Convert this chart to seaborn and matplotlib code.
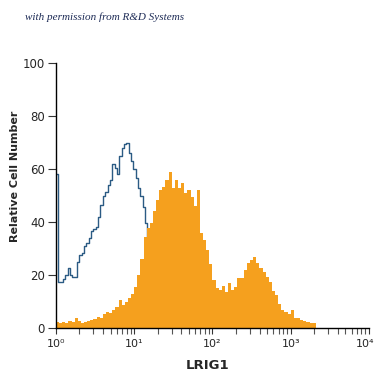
import numpy as np
import pandas as pd
import matplotlib
matplotlib.use("Agg")
import matplotlib.pyplot as plt
import matplotlib.transforms as mtransforms
import seaborn as sns

# isotype control (blue outline), bins of 0.03 in log10 starting at 10^0
control_step = 0.03
control_counts = [58, 17.5, 17.5, 18.5, 20, 22.6, 20, 19.4, 19.4, 25,
                  27.5, 28.5, 31, 32, 34, 36.5, 37.5, 38, 42, 46.5,
                  50, 51.4, 54, 56, 62, 60.5, 58, 65, 68, 69.5,
                  70, 66, 63, 60, 56.5, 53, 50, 45.8, 39.6, 30,
                  20, 10]

# LRIG1 stained cells (orange filled), bins of 0.04 in log10 starting at 10^0
stained_step = 0.04
stained_counts = [2.4, 2.0, 2.2, 2.0, 2.6, 2.2, 3.7, 2.5, 1.9, 2.3,
                  2.8, 3.2, 3.6, 4.3, 4.0, 5.2, 6.2, 5.8, 6.8, 8.0,
                  10.6, 8.7, 10.0, 11.3, 13.0, 15.6, 20.0, 26.0, 34.5, 37.7,
                  39.5, 44.0, 48.3, 52.0, 53.3, 56.0, 59.0, 53.0, 56.0, 53.0,
                  54.6, 51.0, 52.0, 49.5, 46.0, 52.0, 36.0, 33.2, 29.4, 24.0,
                  18.0, 15.0, 14.5, 15.8, 13.5, 17.0, 14.5, 15.6, 18.8, 19.0,
                  22.0, 24.5, 25.7, 26.9, 24.4, 22.5, 21.3, 19.4, 17.5, 14.0,
                  12.5, 9.0, 7.0, 6.2, 5.5, 6.8, 4.0, 3.7, 3.0, 2.5,
                  2.4, 2.0, 1.8]

x_ticks = [1, 10, 100, 1000, 10000]
x_tick_labels = ["10⁰", "10¹", "10²", "10³", "10⁴"]
y_ticks = [0, 20, 40, 60, 80, 100]

sns.set_style("ticks")
plt.rcParams['font.family'] = ['DejaVu Sans']

fig = plt.figure(figsize=(3.75, 3.75), dpi=100)
ax = fig.add_axes([0.149, 0.125, 0.835, 0.707])


def step_frame(counts, step):
    # bin edges on a log scale, last count repeated so the step closes
    edges = 10 ** (np.arange(len(counts) + 1) * step)
    heights = list(counts) + [counts[-1]]
    return pd.DataFrame({"edge": edges, "count": heights})


control = step_frame(control_counts, control_step)
stained = step_frame(stained_counts, stained_step)

sns.lineplot(data=control, x="edge", y="count", drawstyle="steps-post",
             color="#2b5b84", linewidth=1.0, ax=ax, zorder=2)
ax.fill_between(stained["edge"], 0, stained["count"], step="post",
                color="#f5a01e", linewidth=0, zorder=3)

ax.set_xscale("log")
ax.set_xlim(1, 10000)
ax.set_ylim(0, 100)
ax.set_xticks(x_ticks)
ax.set_xticklabels(x_tick_labels, fontsize=8)
ax.xaxis.set_minor_locator(matplotlib.ticker.LogLocator(base=10, subs=np.arange(2, 10), numticks=20))
ax.xaxis.set_minor_formatter(matplotlib.ticker.NullFormatter())
ax.set_yticks(y_ticks)
ax.set_yticklabels([str(v) for v in y_ticks], fontsize=8.5)
ax.tick_params(axis="y", which="major", length=6, width=0.8, color="#333333", pad=2)
ax.tick_params(axis="x", which="major", length=4, width=0.8, color="#333333", pad=4)
ax.tick_params(axis="x", which="minor", length=4, width=0.8, color="#555555")

# last x label sits against the right edge in the reference
last = ax.get_xticklabels()[-1]
last.set_transform(last.get_transform() + mtransforms.ScaledTranslation(-4 / 100, 0, fig.dpi_scale_trans))

sns.despine(ax=ax)
for side in ["left", "bottom"]:
    ax.spines[side].set_linewidth(1.0)
    ax.spines[side].set_color("black")
    ax.spines[side].set_zorder(4)

ax.set_xlabel("LRIG1", fontsize=9.5, fontweight="bold", va="top")
ax.xaxis.set_label_coords(0.486, -0.118)
ax.set_ylabel("Relative Cell Number", fontsize=8, fontweight="bold")
ax.yaxis.set_label_coords(-0.115, 0.574)

fig.text(0.067, 0.955, "with permission from R&D Systems", fontsize=8,
         style="italic", family=["Liberation Serif", "DejaVu Serif"],
         color="#1c2a55", va="center", ha="left")

fig.savefig("out.png", dpi=100, facecolor="white")
